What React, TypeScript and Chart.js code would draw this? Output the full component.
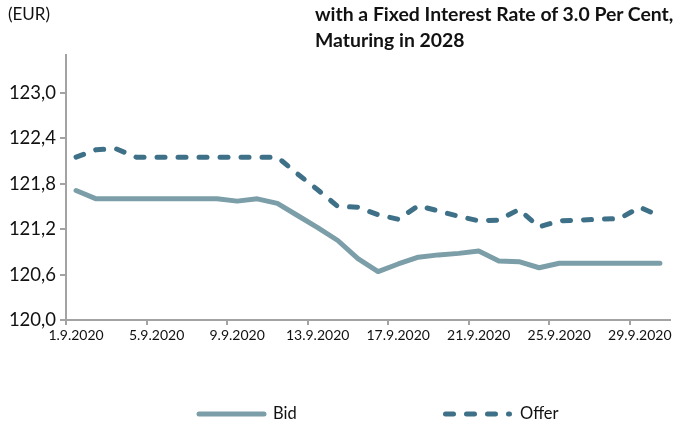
import React, { useEffect, useRef } from 'react';
import { Chart, registerables } from 'chart.js';

Chart.register(...registerables);

const dates = [
  '1.9.2020', '2.9.2020', '3.9.2020', '4.9.2020', '5.9.2020', '6.9.2020', '7.9.2020', '8.9.2020',
  '9.9.2020', '10.9.2020', '11.9.2020', '12.9.2020', '13.9.2020', '14.9.2020', '15.9.2020',
  '16.9.2020', '17.9.2020', '18.9.2020', '19.9.2020', '20.9.2020', '21.9.2020', '22.9.2020',
  '23.9.2020', '24.9.2020', '25.9.2020', '26.9.2020', '27.9.2020', '28.9.2020', '29.9.2020', '30.9.2020',
];

const bid = [
  121.71, 121.60, 121.60, 121.60, 121.60, 121.60, 121.60, 121.60, 121.57, 121.60,
  121.54, 121.38, 121.22, 121.05, 120.81, 120.64, 120.74, 120.83, 120.86, 120.88,
  120.91, 120.78, 120.77, 120.69, 120.75, 120.75, 120.75, 120.75, 120.75, 120.75,
];

const offer = [
  122.15, 122.25, 122.26, 122.15, 122.15, 122.15, 122.15, 122.15, 122.15, 122.15,
  122.15, 121.93, 121.72, 121.50, 121.49, 121.39, 121.33, 121.51, 121.44, 121.37,
  121.31, 121.32, 121.46, 121.23, 121.31, 121.32, 121.33, 121.34, 121.49, 121.37,
];

const yTicks = [120.0, 120.6, 121.2, 121.8, 122.4, 123.0];
const yMin = 120.0;
const yMax = 123.5;
const labelEvery = 4;

const seriesNames = ['Bid', 'Offer'];
const titleLines = ['with a Fixed Interest Rate of 3.0 Per Cent,', 'Maturing in 2028'];
const unitLabel = '(EUR)';

const FONT = 'Lato, "Open Sans", sans-serif';
const BID_COLOR = '#7b9ea8';
const OFFER_COLOR = '#3e7088';
const AXIS_COLOR = '#a3a3a3';
const TEXT_COLOR = '#111111';
const OFFER_DASH = [8, 13];

const legendPlugin = {
  id: 'customLegend',
  afterDraw(chart: any) {
    const ctx = chart.ctx as CanvasRenderingContext2D;
    const y = 414;
    ctx.save();
    ctx.lineCap = 'round';
    ctx.lineWidth = 5;
    ctx.strokeStyle = BID_COLOR;
    ctx.setLineDash([]);
    ctx.beginPath();
    ctx.moveTo(199, y);
    ctx.lineTo(264, y);
    ctx.stroke();
    ctx.strokeStyle = OFFER_COLOR;
    ctx.setLineDash(OFFER_DASH);
    ctx.beginPath();
    ctx.moveTo(445.5, y);
    ctx.lineTo(509.5, y);
    ctx.stroke();
    ctx.setLineDash([]);
    ctx.fillStyle = TEXT_COLOR;
    ctx.font = `16.5px ${FONT}`;
    ctx.textBaseline = 'middle';
    ctx.textAlign = 'left';
    ctx.fillText(seriesNames[0], 273, y);
    ctx.fillText(seriesNames[1], 520, y);
    ctx.restore();
  },
};

export default function App() {
  const canvasRef = useRef<HTMLCanvasElement | null>(null);

  useEffect(() => {
    document.body.style.margin = '0';
    const canvas = canvasRef.current;
    if (!canvas) return;
    const chart = new Chart(canvas, {
      type: 'line',
      data: {
        labels: dates,
        datasets: [
          {
            label: seriesNames[0],
            data: bid,
            borderColor: BID_COLOR,
            backgroundColor: BID_COLOR,
            borderWidth: 5,
            pointRadius: 0,
            tension: 0,
            borderJoinStyle: 'round',
            borderCapStyle: 'round',
          },
          {
            label: seriesNames[1],
            data: offer,
            borderColor: OFFER_COLOR,
            backgroundColor: OFFER_COLOR,
            borderWidth: 5,
            borderDash: OFFER_DASH,
            pointRadius: 0,
            tension: 0,
            borderJoinStyle: 'round',
            borderCapStyle: 'round',
          },
        ],
      },
      options: {
        responsive: false,
        animation: false,
        devicePixelRatio: 1,
        layout: { padding: { top: 55, left: 0, right: 14, bottom: 80 } },
        plugins: {
          legend: { display: false },
          tooltip: { enabled: false },
          title: { display: false },
        },
        scales: {
          x: {
            type: 'category',
            offset: true,
            afterFit: (scale: any) => { scale.height = 30; },
            grid: {
              offset: true,
              drawOnChartArea: false,
              drawTicks: true,
              tickLength: 5,
              lineWidth: 2,
              tickColor: (c: any) => (c.index % labelEvery === 0 && c.index < dates.length ? AXIS_COLOR : 'rgba(0,0,0,0)'),
              color: AXIS_COLOR,
            },
            border: { display: true, color: AXIS_COLOR, width: 2 },
            ticks: {
              autoSkip: false,
              maxRotation: 0,
              minRotation: 0,
              padding: 2,
              color: TEXT_COLOR,
              font: { family: FONT, size: 14 },
              callback: (_v: any, i: number) => (i % labelEvery === 0 ? dates[i] : ''),
            },
          },
          y: {
            type: 'linear',
            min: yMin,
            max: yMax,
            afterFit: (scale: any) => { scale.width = 66; },
            afterBuildTicks: (scale: any) => { scale.ticks = yTicks.map((v) => ({ value: v })); },
            grid: {
              drawOnChartArea: false,
              drawTicks: true,
              tickLength: 6,
              lineWidth: 2,
              color: AXIS_COLOR,
              tickColor: AXIS_COLOR,
            },
            border: { display: true, color: AXIS_COLOR, width: 2 },
            ticks: {
              padding: 4,
              color: TEXT_COLOR,
              font: { family: FONT, size: 18.5 },
              callback: (v: any) => Number(v).toFixed(1).replace('.', ','),
            },
          },
        },
      },
      plugins: [legendPlugin],
    } as any);
    return () => chart.destroy();
  }, []);

  return (
    <div style={{ position: 'relative', width: 684, height: 430, background: '#ffffff' }}>
      <canvas ref={canvasRef} width={684} height={430} style={{ display: 'block' }} />
      <div
        style={{
          position: 'absolute', left: 8, top: 3, fontFamily: FONT, fontSize: 17,
          color: TEXT_COLOR, lineHeight: '22px',
        }}
      >
        {unitLabel}
      </div>
      <div
        style={{
          position: 'absolute', left: 315, top: 1, fontFamily: FONT, fontSize: 19.4,
          fontWeight: 700, color: TEXT_COLOR, lineHeight: '26px', whiteSpace: 'nowrap',
        }}
      >
        {titleLines.map((t) => (<div key={t}>{t}</div>))}
      </div>
    </div>
  );
}
